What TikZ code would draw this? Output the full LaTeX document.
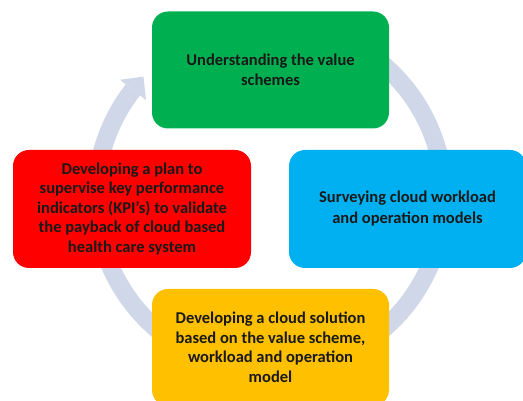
\documentclass[tikz,border=0pt]{standalone}
\usepackage{fontspec}
\setmainfont{Carlito}
\definecolor{ringc}{RGB}{208,215,232}
\definecolor{cgreen}{RGB}{0,176,80}
\definecolor{cblue}{RGB}{0,176,240}
\definecolor{cred}{RGB}{255,0,0}
\definecolor{cyellow}{RGB}{255,192,0}
\tikzset{
  box/.style={rounded corners=16pt, minimum width=237pt, minimum height=117pt,
    align=center, inner sep=0pt, text=black!90,
    font=\fontsize{16.5}{19.5}\selectfont\bfseries},
  ring/.style={draw=ringc, line width=18pt},
}
\begin{document}
\begin{tikzpicture}[x=1pt,y=1pt]
\useasboundingbox (0,0) rectangle (523,401);
% circular arrow
\coordinate (c) at (270,204);
\draw[ring] (c) ++(110:174) arc[start angle=110, end angle=-218, radius=174pt];
\fill[ringc] (146,300.9) -- (143.5,324.4) -- (120,321.2) -- cycle;
% boxes
\node[box, fill=cgreen] (g) at (270.5,331) {Understanding the value\\schemes};
\node[box, fill=cblue, minimum height=118pt] (b) at (407.5,192) {Surveying cloud workload\\[1.5pt]and operation models};
\node[box, fill=cred, minimum height=118pt, minimum width=238pt] (r) at (132,192) {Developing a plan to\\supervise key performance\\indicators (KPI’s) to validate\\the payback of cloud based\\health care system};
\node[box, fill=cyellow] (y) at (270.5,53.5) {Developing a cloud solution\\based on the value scheme,\\workload and operation\\model};
\end{tikzpicture}
\end{document}
